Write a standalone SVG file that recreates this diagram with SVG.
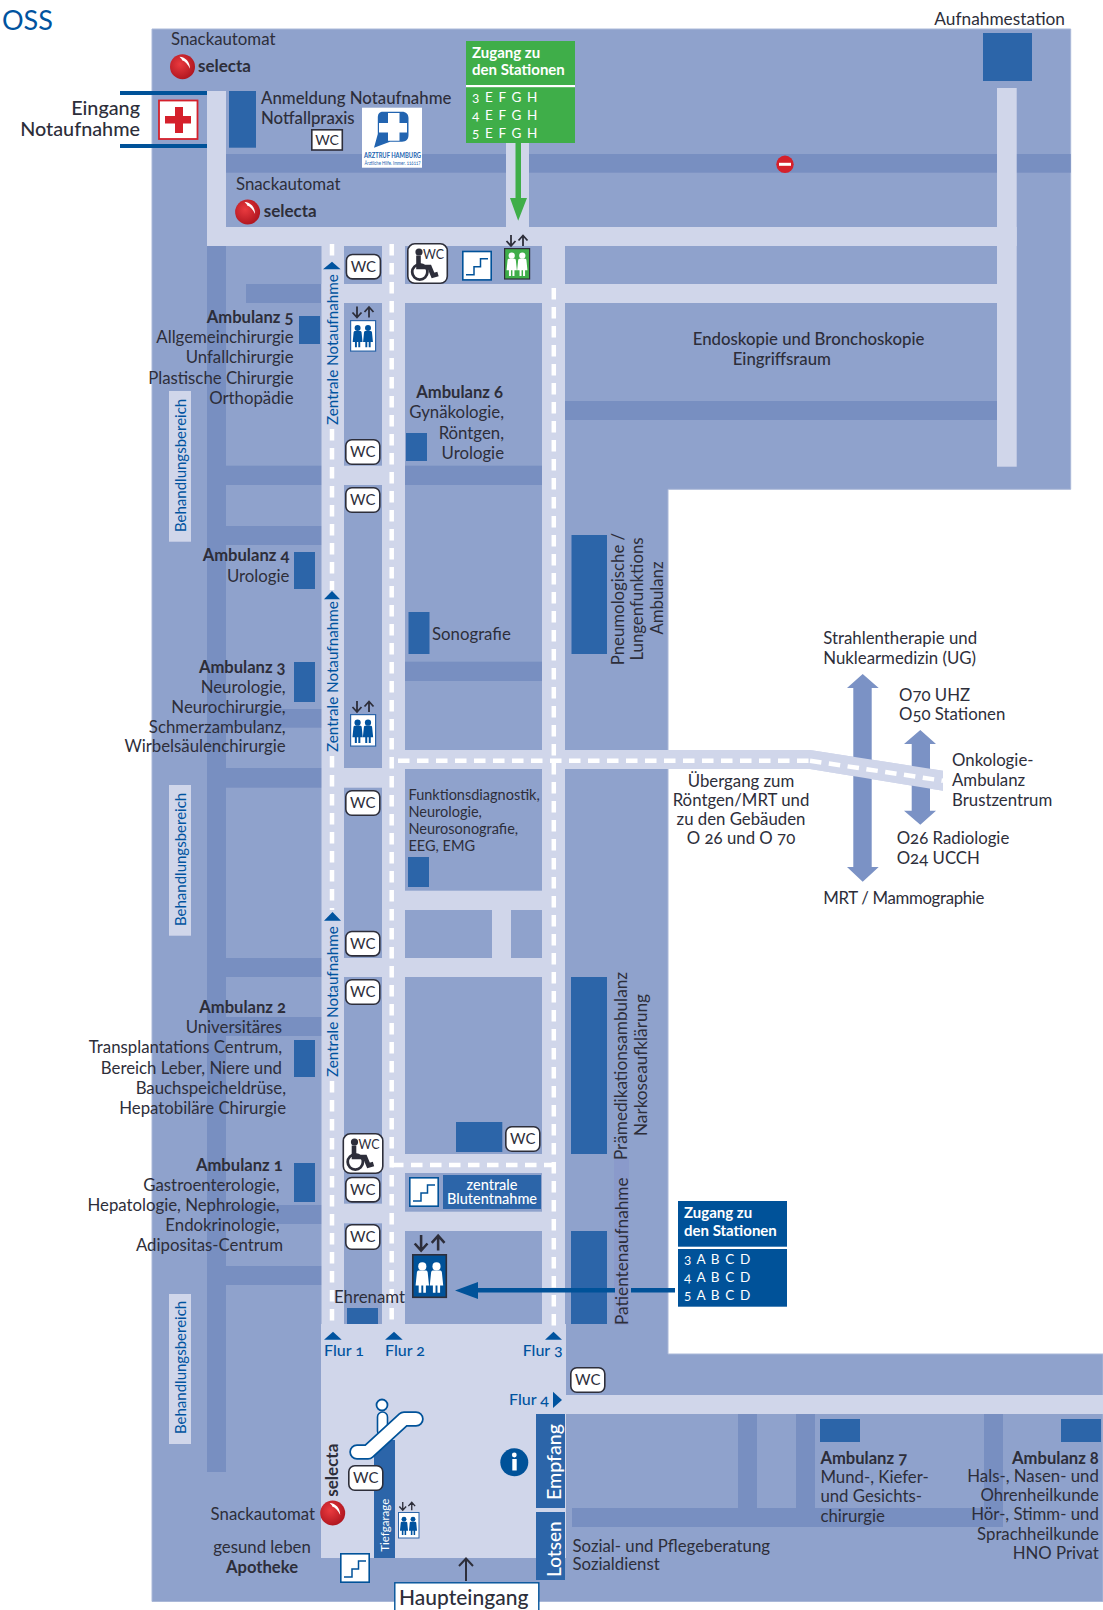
<svg xmlns="http://www.w3.org/2000/svg" xmlns:xlink="http://www.w3.org/1999/xlink" width="1103" height="1610" viewBox="0 0 1103 1610">
<style>
text{font-family:"Lato","Open Sans","Liberation Sans",sans-serif;fill:#2d2e3a;font-size:16.8px;font-variant-numeric:oldstyle-nums}
.b{font-weight:700;font-size:16.6px}
.sel{font-weight:700;font-size:17px}
.m{font-weight:500}
.r{text-anchor:end}
.c{text-anchor:middle}
.blue{fill:#00539f}
.w{fill:#fff}
.z{font-size:15.2px}
.bh{font-size:15px}
.zt{font-size:15px;font-weight:700;fill:#fff}
.nr{font-size:13.5px;letter-spacing:1.1px;fill:#fff}
.fk{font-size:14.5px}
.vt{font-size:17.2px}
.fl{font-size:16px;font-weight:500;fill:#00539f}
.band{fill:#788fc1}
.cor{fill:#d0d6ea}
.room{fill:#2c65a9}
.dash{fill:none;stroke:#fff;stroke-width:4.5;stroke-dasharray:11.5 7.5}
.wcb{fill:#fff;stroke:#2d2e3a;stroke-width:1.6}
.st{fill:#fff;stroke:#005299;stroke-width:1.6}
.stl{fill:none;stroke:#005299;stroke-width:1.5}
.ar{fill:none;stroke:#2d2e3a;stroke-width:1.8}
.tri{fill:#00539f}
</style>
<defs>
<radialGradient id="red" cx="0.4" cy="0.4" r="0.7"><stop offset="0" stop-color="#ea3a3f"/><stop offset="1" stop-color="#a9121c"/></radialGradient>
<g id="selectaLogo"><circle r="12.5" fill="url(#red)"/><path d="M-3,-10C3,-9.5 7.5,-5 7.5,2C5.5,-2.5 2.5,-5.5 -0.5,-6.5C-0.5,-7.8 -2,-8.5 -3,-10Z" fill="#fff"/></g>
<g id="person"><circle cx="0" cy="-8" r="3.4"/><path d="M-4.5,-3C-4.5,-4.2 -3.4,-4.6 -2.5,-4.6L2.5,-4.6C3.4,-4.6 4.5,-4.2 4.5,-3L5.6,8L3,8L3,14L0.8,14L0.8,8L-0.8,8L-0.8,14L-3,14L-3,8L-5.6,8Z"/></g>
<g id="arrows"><path class="ar" d="M5,0V10M0.5,6L5,11L9.5,6M17,11V1M12.5,5.5L17,0.5L21.5,5.5"/></g>
<g id="stairs"><rect class="st" x="0.8" y="0.8" width="28.4" height="28.4"/><path class="stl" d="M4,24H12V16H18.5V8H26"/></g>
<g id="wcr"><rect class="wcb" x="0.8" y="0.8" width="34" height="24.4" rx="6"/><text x="17.8" y="18.2" class="c" style="font-size:15px">WC</text></g>
<g id="wheel"><rect class="wcb" x="0.8" y="0.8" width="39.5" height="39.5" rx="7"/><circle cx="12" cy="9" r="3.6" fill="#2d2e3a"/><path d="M11.5,12.5V24H22.5L26,32.5L31,31" fill="none" stroke="#2d2e3a" stroke-width="4.6"/><circle cx="12.8" cy="29" r="7.6" fill="none" stroke="#2d2e3a" stroke-width="2.8"/><text x="16" y="15.5" style="font-size:13.5px" textLength="21" lengthAdjust="spacingAndGlyphs">WC</text></g>
</defs>

<g id="building">
<path d="M152,29H1070.7V489.3H668V1354H1103V1601.5H152Z" fill="#8fa2cc" stroke="#aab8d8" stroke-width="1"/>
<rect class="band" x="207" y="246" width="19" height="1226"/>
<rect class="band" x="226" y="154" width="844.7" height="18.7"/>
<rect class="band" x="246" y="284" width="76" height="19"/>
<rect class="band" x="226" y="465.7" width="96" height="19.3"/>
<rect class="band" x="226" y="526" width="96" height="19"/>
<rect class="band" x="226" y="709" width="96" height="18.7"/>
<rect class="band" x="226" y="768" width="96" height="19.7"/>
<rect class="band" x="226" y="958" width="96" height="19"/>
<rect class="band" x="226" y="1017" width="96" height="19"/>
<rect class="band" x="226" y="1205" width="96" height="19"/>
<rect class="band" x="226" y="1266" width="96" height="19"/>
<rect class="band" x="405" y="465.7" width="137" height="19.3"/>
<rect class="band" x="405" y="661.7" width="137" height="19.3"/>
<rect class="band" x="565" y="401" width="432" height="19"/>
<rect class="band" x="738" y="1414" width="19" height="94"/>
<rect class="band" x="796" y="1414" width="19" height="94"/>
<rect class="band" x="984" y="1414" width="19" height="94"/>
<rect class="band" x="572" y="1508" width="431" height="19"/>
<rect x="614" y="1158" width="15" height="167" fill="#8a9acb"/>
</g>

<g id="corridors">
<rect class="cor" x="207" y="91" width="19" height="155"/>
<rect class="cor" x="207" y="227" width="809.7" height="19"/>
<rect class="cor" x="997" y="88" width="19.7" height="378.7"/>
<rect class="cor" x="506" y="143" width="23" height="84"/>
<rect class="cor" x="321.5" y="227" width="22.5" height="1100"/>
<rect class="cor" x="382" y="227" width="23" height="1100"/>
<rect class="cor" x="542" y="227" width="23" height="1100"/>
<rect class="cor" x="321.5" y="284" width="675.5" height="19"/>
<rect class="cor" x="344" y="465.7" width="38" height="19.3"/>
<rect class="cor" x="344" y="768" width="38" height="19.7"/>
<rect class="cor" x="344" y="958" width="38" height="19"/>
<rect class="cor" x="344" y="1203.7" width="38" height="19.6"/>
<path class="cor" d="M382,750H810L943,770.7V790.7L810,769H382Z"/>
<rect class="cor" x="405" y="890.7" width="137" height="19.3"/>
<rect class="cor" x="405" y="958" width="137" height="19"/>
<rect class="cor" x="405" y="1154" width="137" height="19"/>
<rect class="cor" x="405" y="1211.7" width="137" height="19.3"/>
<rect class="cor" x="492" y="910" width="19" height="48"/>
<path class="cor" d="M321,1324H566V1395H1103V1414H566V1558H321Z"/>
</g>

<g id="rooms">
<rect class="room" x="229" y="91" width="27" height="56.7"/>
<rect class="room" x="299" y="316" width="21" height="28"/>
<rect class="room" x="406" y="433" width="21" height="28"/>
<rect class="room" x="294" y="552" width="21" height="37"/>
<rect class="room" x="408.5" y="612" width="21" height="42"/>
<rect class="room" x="294" y="662" width="21" height="40"/>
<rect class="room" x="571.5" y="535" width="35.5" height="119"/>
<rect class="room" x="408" y="857" width="21" height="30"/>
<rect class="room" x="294" y="1040" width="21" height="37"/>
<rect class="room" x="294" y="1163" width="21" height="39"/>
<rect class="room" x="456" y="1122" width="46.3" height="30"/>
<rect class="room" x="571" y="977" width="36" height="177"/>
<rect class="room" x="571" y="1231" width="36" height="93"/>
<rect class="room" x="347" y="1308" width="31" height="16"/>
<rect class="room" x="983" y="33" width="49" height="48"/>
<rect class="room" x="820" y="1419" width="40" height="23"/>
<rect class="room" x="1061" y="1419" width="40" height="23"/>
<rect class="room" x="443" y="1175" width="98" height="34"/>
<rect class="room" x="374" y="1440" width="21" height="118"/>
<rect class="room" x="536" y="1414" width="29" height="94"/>
<rect class="room" x="536" y="1512" width="29" height="68"/>
<rect x="169" y="391" width="22" height="150.7" class="cor"/>
<rect x="169" y="785" width="22" height="150.7" class="cor"/>
<rect x="169" y="1294" width="22" height="150" class="cor"/>
</g>

<g id="connectors">
<path class="dash" d="M332,244V258M332,429V590M332,756V910M332,1081V1327"/>
<path class="dash" d="M391.7,244V1327"/>
<path class="dash" d="M553.8,288V1327"/>
<path class="dash" d="M398,760.7H810"/>
<path class="dash" d="M392,1165H554"/>
<path d="M120,93H207M120,146H207" stroke="#005299" stroke-width="4" fill="none"/>
<path d="M515.5,143H521V198H527L518.2,220.7L510,198H515.5Z" fill="#3fae49"/>
<path d="M675,1290.3H631M615,1290.3H478" stroke="#005299" stroke-width="4.6" fill="none"/>
<path d="M455,1290.5L478,1282V1299Z" fill="#005299"/>
<path d="M853.3,688H847L862.7,674L878.7,688H871.7V867H878.7L862.7,881.7L847,867H853.3Z" fill="#7b92c5"/>
<path d="M911.7,744H904L920.3,730L936,744H930V810.7H936L920.3,824.7L904,810.7H911.7Z" fill="#7b92c5"/>
<path class="cor" d="M810,750L943,770.7V790.7L810,769Z"/>
<path class="dash" d="M810,760.7L943,780.7"/>
<path d="M466,1581V1559M459,1566L466,1558.5L473,1566" fill="none" stroke="#2d2e3a" stroke-width="2"/>
<path class="tri" d="M323,269.3L332,261.7L340.6,269.3Z"/>
<path class="tri" d="M324,599.3L332,591L340,599.3Z"/>
<path class="tri" d="M324,920.7L332.5,912L341,920.7Z"/>
<path class="tri" d="M324,1339.7L333,1331.7L341.7,1339.7Z"/>
<path class="tri" d="M385,1339.7L394,1331.7L402.7,1339.7Z"/>
<path class="tri" d="M545,1339.7L553.5,1331.7L562,1339.7Z"/>
<path class="tri" d="M553,1391.7L562,1400L553,1408Z"/>
</g>

<g id="title"><text x="2" y="29.5" class="blue" style="font-size:27px">OSS</text></g>
<g id="snack1"><text x="171" y="45">Snackautomat</text><use xlink:href="#selectaLogo" x="182.5" y="66.7"/><text x="198" y="72.3" class="sel">selecta</text></g>
<g id="snack2"><text x="236" y="190">Snackautomat</text><use xlink:href="#selectaLogo" x="247.6" y="212"/><text x="263.7" y="217" class="sel">selecta</text></g>
<g id="eingang"><text x="140" y="115" class="r m" style="font-size:19.8px">Eingang</text><text x="140" y="136" class="r m" style="font-size:19.8px">Notaufnahme</text>
<rect x="159" y="100.5" width="38.5" height="38.5" fill="#fff" stroke="#d5202b" stroke-width="1.8"/><path d="M175,107V116H165V123.5H175V133H183V123.5H191V116H183V107Z" fill="#d5202b"/></g>
<g id="anmeldung"><text x="261" y="104" class="m">Anmeldung Notaufnahme</text><text x="261" y="124" class="m">Notfallpraxis</text>
<rect x="311.8" y="129.8" width="30.5" height="20.2" fill="#fff" stroke="#2d2e3a" stroke-width="1.6"/><text x="327" y="145" class="c" style="font-size:14px">WC</text></g>
<g id="arztruf"><rect x="362" y="107.7" width="60" height="60" fill="#fff"/>
<path d="M383,111.7H402C406,111.7 408.5,114 408.5,118V135C408.5,139.5 406,141.7 402,141.7H390L374,147.7L377.8,134V118C377.8,114 379,111.7 383,111.7Z" fill="#2264b0"/>
<path d="M388,113H399.5V123H407V132.5H399.5V140.7H388V132.5H379V123H388Z" fill="#fff"/>
<text x="392.5" y="157.5" class="c" style="font-size:8px;font-weight:700;fill:#2264b0" textLength="57" lengthAdjust="spacingAndGlyphs">ARZTRUF HAMBURG</text>
<text x="392.5" y="164.5" class="c" style="font-size:5.5px;fill:#2264b0" textLength="56" lengthAdjust="spacingAndGlyphs">Ärztliche Hilfe. Immer. 116117</text></g>
<g id="zugangEFGH"><rect x="466" y="41" width="109" height="102" fill="#3fae49"/><rect x="466" y="85" width="109" height="2.2" fill="#fff"/>
<text x="472" y="57.7" class="zt">Zugang zu</text><text x="472" y="75" class="zt">den Stationen</text>
<text x="472" y="102.3" class="nr">3 E F G H</text><text x="472" y="120.3" class="nr">4 E F G H</text><text x="472" y="138.3" class="nr">5 E F G H</text></g>
<g id="noentry"><circle cx="785" cy="164.3" r="8.7" fill="#d5202b"/><rect x="779" y="162.8" width="12" height="3" fill="#fff"/></g>
<g id="aufnahme"><text x="1065" y="25.3" class="r" style="font-size:17.3px">Aufnahmestation</text></g>
<g id="topicons">
<use xlink:href="#wcr" x="345.6" y="253.7"/>
<use xlink:href="#wheel" x="407" y="243"/>
<use xlink:href="#stairs" x="462" y="250.7"/>
<use xlink:href="#arrows" transform="translate(506,235)"/>
<rect x="504.6" y="248.6" width="25" height="30.4" fill="#3fae49" stroke="#2d2e3a" stroke-width="1.2"/>
<use xlink:href="#person" fill="#fff" transform="translate(511.7,263) scale(.92)"/>
<use xlink:href="#person" fill="#fff" transform="translate(522.3,263) scale(.92)"/>
</g>
<g id="lift1"><use xlink:href="#arrows" transform="translate(352,306.5)"/><rect x="350.6" y="320.6" width="25" height="30.5" fill="#fff" stroke="#2c65a9" stroke-width="1.2"/><use xlink:href="#person" fill="#00539f" transform="translate(357.6,335) scale(.88)"/><use xlink:href="#person" fill="#00539f" transform="translate(368,335) scale(.88)"/></g>
<g id="lift2"><use xlink:href="#arrows" transform="translate(352,701)"/><rect x="350.6" y="714.6" width="25" height="31.5" fill="#fff" stroke="#2c65a9" stroke-width="1.2"/><use xlink:href="#person" fill="#00539f" transform="translate(357.6,730) scale(.92)"/><use xlink:href="#person" fill="#00539f" transform="translate(368,730) scale(.92)"/></g>
<g id="lift3"><use xlink:href="#arrows" transform="translate(414,1235) scale(1.42)"/><rect x="412.8" y="1254.8" width="33.5" height="42.5" fill="#005299" stroke="#2d2e3a" stroke-width="1.6"/><use xlink:href="#person" fill="#fff" transform="translate(422.3,1276) scale(1.2)"/><use xlink:href="#person" fill="#fff" transform="translate(436.5,1276) scale(1.2)"/></g>
<g id="lift4"><use xlink:href="#arrows" transform="translate(399,1502) scale(.75)"/><rect x="398.5" y="1512.5" width="20.5" height="25.5" fill="#fff" stroke="#2c65a9" stroke-width="1"/><use xlink:href="#person" fill="#00539f" transform="translate(404,1525) scale(.72)"/><use xlink:href="#person" fill="#00539f" transform="translate(413,1525) scale(.72)"/></g>
<g id="wc-boxes">
<use xlink:href="#wcr" x="345" y="439"/>
<use xlink:href="#wcr" x="345" y="487"/>
<use xlink:href="#wcr" x="345" y="790"/>
<use xlink:href="#wcr" x="345" y="930.7"/>
<use xlink:href="#wcr" x="345" y="979"/>
<use xlink:href="#wcr" x="345" y="1176.7"/>
<use xlink:href="#wcr" x="345" y="1224"/>
<use xlink:href="#wcr" x="505" y="1126"/>
<use xlink:href="#wcr" x="570" y="1367"/>
<use xlink:href="#wcr" x="348" y="1465"/>
<use xlink:href="#wheel" x="342.5" y="1133"/>
</g>
<g id="stairs-others"><use xlink:href="#stairs" x="409" y="1177"/><use xlink:href="#stairs" x="340" y="1553"/></g>

<g id="amb5"><text x="293.5" y="323" class="r b">Ambulanz 5</text><text x="293.5" y="343" class="r">Allgemeinchirurgie</text><text x="293.5" y="363" class="r">Unfallchirurgie</text><text x="293.5" y="384" class="r">Plastische Chirurgie</text><text x="293.5" y="404" class="r">Orthopädie</text></g>
<g id="amb6"><text x="503" y="397.5" class="r b">Ambulanz 6</text><text x="504" y="418" class="r">Gynäkologie,</text><text x="504" y="439" class="r">Röntgen,</text><text x="504" y="459" class="r">Urologie</text></g>
<g id="amb4"><text x="289.4" y="561" class="r b">Ambulanz 4</text><text x="289.4" y="582" class="r">Urologie</text></g>
<g id="amb3"><text x="285.6" y="672.7" class="r b">Ambulanz 3</text><text x="285.6" y="692.7" class="r">Neurologie,</text><text x="285.6" y="712.7" class="r">Neurochirurgie,</text><text x="285.6" y="732.7" class="r">Schmerzambulanz,</text><text x="285.6" y="752.3" class="r">Wirbelsäulenchirurgie</text></g>
<g id="sono"><text x="432" y="640">Sonografie</text></g>
<g id="pneumo"><text transform="translate(623.5,599) rotate(-90)" class="c">Pneumologische /</text><text transform="translate(643.4,599) rotate(-90)" class="c">Lungenfunktions</text><text transform="translate(663.3,598) rotate(-90)" class="c">Ambulanz</text></g>
<g id="funktion"><text x="408.5" y="800" class="fk">Funktionsdiagnostik,</text><text x="408.5" y="817" class="fk">Neurologie,</text><text x="408.5" y="834" class="fk">Neurosonografie,</text><text x="408.5" y="851" class="fk">EEG, EMG</text></g>
<g id="zentrale"><text transform="translate(337.5,425) rotate(-90)" class="blue z">Zentrale Notaufnahme</text><text transform="translate(337.5,752) rotate(-90)" class="blue z">Zentrale Notaufnahme</text><text transform="translate(337.5,1077) rotate(-90)" class="blue z">Zentrale Notaufnahme</text></g>
<g id="behandlung"><text transform="translate(186,532) rotate(-90)" class="blue bh">Behandlungsbereich</text><text transform="translate(186,926) rotate(-90)" class="blue bh">Behandlungsbereich</text><text transform="translate(186,1434) rotate(-90)" class="blue bh">Behandlungsbereich</text></g>
<g id="endo"><text x="692.7" y="345" class="m">Endoskopie und Bronchoskopie</text><text x="732.7" y="365" class="m">Eingriffsraum</text></g>
<g id="external"><text x="823.3" y="644">Strahlentherapie und</text><text x="823.3" y="664">Nuklearmedizin (UG)</text><text x="899" y="701">O70 UHZ</text><text x="899" y="720">O50 Stationen</text><text x="952" y="765.7">Onkologie-</text><text x="952" y="785.7">Ambulanz</text><text x="952" y="805.7">Brustzentrum</text><text x="896.7" y="844">O26 Radiologie</text><text x="896.7" y="864.3">O24 UCCH</text><text x="823.3" y="904" textLength="161">MRT / Mammographie</text></g>
<g id="uebergang"><text x="741" y="786.7" class="c">Übergang zum</text><text x="741" y="805.7" class="c">Röntgen/MRT und</text><text x="741" y="825" class="c">zu den Gebäuden</text><text x="741" y="844" class="c">O 26 und O 70</text></g>
<g id="amb2"><text x="286" y="1013" class="r b">Ambulanz 2</text><text x="282" y="1033" class="r">Universitäres</text><text x="282" y="1053" class="r">Transplantations Centrum,</text><text x="282" y="1074" class="r">Bereich Leber, Niere und</text><text x="286" y="1094" class="r">Bauchspeicheldrüse,</text><text x="286" y="1114" class="r">Hepatobiläre Chirurgie</text></g>
<g id="amb1"><text x="282.7" y="1171" class="r b">Ambulanz 1</text><text x="279.5" y="1191" class="r">Gastroenterologie,</text><text x="279.5" y="1211" class="r">Hepatologie, Nephrologie,</text><text x="279.5" y="1231" class="r">Endokrinologie,</text><text x="283" y="1251" class="r">Adipositas-Centrum</text></g>
<g id="ehrenamt"><text x="334" y="1302.7">Ehrenamt</text></g>
<g id="blut"><text x="492" y="1190" class="c w m" style="font-size:14.5px">zentrale</text><text x="492" y="1204" class="c w m" style="font-size:14.5px">Blutentnahme</text></g>
<g id="praemed"><text transform="translate(627,1066) rotate(-90)" class="c vt">Prämedikationsambulanz</text><text transform="translate(646.7,1065) rotate(-90)" class="c vt">Narkoseaufklärung</text><text transform="translate(628,1325) rotate(-90)" class="vt">Patientenaufnahme</text></g>
<g id="zugangABCD"><rect x="678" y="1201" width="109" height="45.7" fill="#005299"/><rect x="678" y="1249" width="109" height="57.7" fill="#005299"/>
<text x="684" y="1218" class="zt">Zugang zu</text><text x="684" y="1236" class="zt">den Stationen</text>
<text x="684" y="1264" class="nr">3 A B C D</text><text x="684" y="1282" class="nr">4 A B C D</text><text x="684" y="1300" class="nr">5 A B C D</text></g>
<g id="flur"><text x="324" y="1355.7" class="fl">Flur 1</text><text x="385" y="1355.7" class="fl">Flur 2</text><text x="522.7" y="1355.7" class="fl">Flur 3</text><text x="509" y="1405" class="fl">Flur 4</text></g>
<g id="escalator"><circle cx="382" cy="1405" r="5.5" fill="#fff" stroke="#005299" stroke-width="1.8"/><rect x="377.5" y="1412" width="10" height="24" rx="5" fill="#fff" stroke="#005299" stroke-width="1.6"/>
<path d="M357,1452H368L404,1419H416" fill="none" stroke="#005299" stroke-width="15.5" stroke-linecap="round" stroke-linejoin="round"/><path d="M357,1452H368L404,1419H416" fill="none" stroke="#fff" stroke-width="12" stroke-linecap="round" stroke-linejoin="round"/></g>
<g id="tiefgarage"><text transform="translate(388.7,1551.7) rotate(-90)" class="w" style="font-size:11.5px">Tiefgarage</text></g>
<g id="snack3"><use xlink:href="#selectaLogo" x="332.7" y="1513"/><text transform="translate(338.3,1496.7) rotate(-90)" class="sel">selecta</text><text x="315" y="1520" class="r">Snackautomat</text></g>
<g id="apotheke"><text x="262" y="1552.7" class="c">gesund leben</text><text x="262" y="1573" class="c b">Apotheke</text></g>
<g id="info"><circle cx="514.3" cy="1462.3" r="14" fill="#005299"/><circle cx="514.3" cy="1455" r="2.4" fill="#fff"/><rect x="512.3" y="1459" width="4.4" height="11.5" fill="#fff"/></g>
<g id="empfang"><text transform="translate(560.5,1500) rotate(-90)" class="w m" style="font-size:19.6px">Empfang</text><text transform="translate(560.5,1577) rotate(-90)" class="w m" style="font-size:19px">Lotsen</text></g>
<g id="soz"><text x="572.5" y="1551.7">Sozial- und Pflegeberatung</text><text x="572.5" y="1570">Sozialdienst</text></g>
<g id="amb7"><text x="820.4" y="1464" class="b">Ambulanz 7</text><text x="820.4" y="1483.3">Mund-, Kiefer-</text><text x="820.4" y="1502.3">und Gesichts-</text><text x="820.4" y="1521.7">chirurgie</text></g>
<g id="amb8"><text x="1098.8" y="1464.3" class="r b">Ambulanz 8</text><text x="1098.8" y="1482.3" class="r">Hals-, Nasen- und</text><text x="1098.8" y="1501" class="r">Ohrenheilkunde</text><text x="1098.8" y="1520.3" class="r">Hör-, Stimm- und</text><text x="1098.8" y="1540" class="r">Sprachheilkunde</text><text x="1098.8" y="1558.7" class="r">HNO Privat</text></g>
<g id="haupteingang"><rect x="394.8" y="1582.8" width="144" height="30" fill="#fff" stroke="#005299" stroke-width="1.4"/><text x="399" y="1605" class="m" style="font-size:21px">Haupteingang</text></g>
</svg>
